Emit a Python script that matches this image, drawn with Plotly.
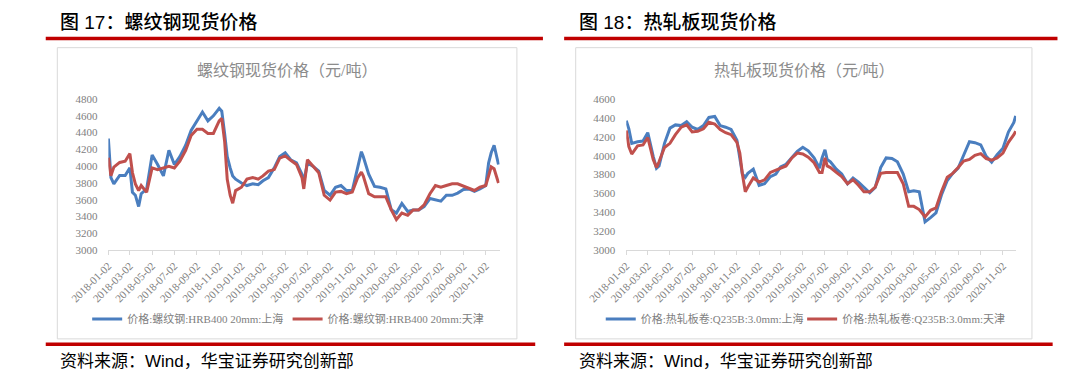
import plotly.graph_objects as go

W, H = 1070, 388

# ---------------- data ----------------
rebar_dates = [
    "2018-01-02", "2018-01-09", "2018-01-17", "2018-02-02", "2018-02-17", "2018-03-02", "2018-03-09",
    "2018-03-17", "2018-03-26", "2018-04-02", "2018-04-17", "2018-05-02", "2018-05-17", "2018-06-02",
    "2018-06-17", "2018-07-02", "2018-07-17", "2018-08-02", "2018-08-17", "2018-09-02", "2018-09-17",
    "2018-10-02", "2018-10-17", "2018-11-02", "2018-11-09", "2018-11-17", "2018-11-24", "2018-12-02",
    "2018-12-09", "2018-12-17", "2019-01-02", "2019-01-17", "2019-02-02", "2019-02-17", "2019-03-02",
    "2019-03-17", "2019-04-02", "2019-04-17", "2019-05-02", "2019-05-17", "2019-06-02", "2019-06-17",
    "2019-06-22", "2019-07-02", "2019-07-17", "2019-08-02", "2019-08-17", "2019-09-02", "2019-09-17",
    "2019-10-02", "2019-10-17", "2019-11-02", "2019-11-17", "2019-11-27", "2019-12-02", "2019-12-17",
    "2020-01-02", "2020-01-17", "2020-02-02", "2020-02-17", "2020-03-02", "2020-03-17", "2020-04-02",
    "2020-04-17", "2020-05-02", "2020-05-17", "2020-06-02", "2020-06-17", "2020-07-02", "2020-07-17",
    "2020-08-02", "2020-08-17", "2020-09-02", "2020-09-17", "2020-10-02", "2020-10-17", "2020-11-02",
    "2020-11-10", "2020-11-17", "2020-11-25", "2020-12-02", "2020-12-07",
]
rebar_shanghai = [
    4330, 3865, 3790, 3890, 3890, 3980, 3690,
    3655, 3520, 3673, 3730, 4135, 4020, 3885,
    4190, 4020, 4115, 4250, 4425, 4540, 4645,
    4540, 4600, 4690, 4655, 4385, 4115, 3980,
    3885, 3846, 3800, 3770, 3790, 3780, 3827,
    3865, 3980, 4115, 4160, 4077, 4040, 3905,
    3810, 4040, 4000, 3942, 3711, 3654, 3750,
    3770, 3711, 3711, 3980, 4173, 4115, 3905,
    3760, 3750, 3730, 3480, 3442, 3557, 3461,
    3480, 3480, 3520, 3615, 3596, 3584, 3654,
    3654, 3680, 3723, 3730, 3700, 3730, 3770,
    4040, 4160, 4250, 4115, 4020,
]
rebar_tianjin = [
    4100, 3885, 3990, 4045, 4060, 4150, 3925,
    3790, 3710, 3770, 3690, 3980, 3960, 3980,
    4000, 3980, 4060, 4190, 4365, 4440, 4440,
    4390, 4390, 4540, 4570, 4290, 3845, 3655,
    3560, 3710, 3750, 3846, 3865, 3846, 3885,
    3942, 3960, 4096, 4123, 4070, 4020, 3865,
    3730, 4077, 4000, 3923, 3654, 3596, 3692,
    3700, 3673, 3692, 3865, 3930, 3885, 3673,
    3635, 3635, 3635, 3480, 3365, 3442, 3415,
    3480, 3480, 3540, 3673, 3770, 3750, 3770,
    3790, 3790, 3761, 3730, 3711, 3750, 3770,
    3885, 3992, 3970, 3885, 3800,
]

hrc_dates = [
    "2018-01-02", "2018-01-09", "2018-01-17", "2018-02-02", "2018-02-17", "2018-03-02", "2018-03-17",
    "2018-03-26", "2018-04-02", "2018-04-17", "2018-05-02", "2018-05-17", "2018-06-02", "2018-06-17",
    "2018-07-02", "2018-07-17", "2018-08-02", "2018-08-17", "2018-09-02", "2018-09-17", "2018-10-02",
    "2018-10-17", "2018-11-02", "2018-11-10", "2018-11-17", "2018-11-25", "2018-12-02", "2018-12-17",
    "2019-01-02", "2019-01-17", "2019-02-02", "2019-02-17", "2019-03-02", "2019-03-17", "2019-04-02",
    "2019-04-17", "2019-05-02", "2019-05-17", "2019-06-02", "2019-06-17", "2019-06-24", "2019-07-02",
    "2019-07-08", "2019-07-17", "2019-08-02", "2019-08-17", "2019-09-02", "2019-09-17", "2019-10-02",
    "2019-10-17", "2019-11-02", "2019-11-17", "2019-12-02", "2019-12-17", "2020-01-02", "2020-01-17",
    "2020-02-02", "2020-02-17", "2020-03-02", "2020-03-17", "2020-04-02", "2020-04-17", "2020-05-02",
    "2020-05-17", "2020-06-02", "2020-06-17", "2020-07-02", "2020-07-17", "2020-08-02", "2020-08-17",
    "2020-09-02", "2020-09-17", "2020-10-02", "2020-10-17", "2020-11-02", "2020-11-17", "2020-12-02",
    "2020-12-07",
]
hrc_shanghai = [
    4370, 4285, 4131, 4148, 4155, 4244, 3994,
    3868, 3892, 4131, 4292, 4326, 4319, 4360,
    4302, 4278, 4319, 4405, 4415, 4319, 4302,
    4278, 4165, 3977, 3806, 3772, 3813, 3858,
    3687, 3704, 3779, 3806, 3881, 3909, 3984,
    4046, 4090, 4052, 3977, 3868, 3977, 4063,
    3960, 3936, 3858, 3806, 3704, 3765, 3721,
    3663, 3608, 3663, 3875, 3977, 3970, 3936,
    3806, 3618, 3628, 3618, 3300, 3345, 3396,
    3584, 3738, 3813, 3868, 4005, 4148, 4138,
    4114, 3994, 3933, 4011, 4080, 4251, 4353,
    4422,
]
hrc_tianjin = [
    4268, 4097, 4018, 4104, 4114, 4193, 3960,
    3875, 3936, 4087, 4131, 4223, 4302, 4326,
    4251, 4258, 4285, 4354, 4336, 4278, 4244,
    4223, 4141, 4028, 3806, 3618, 3669, 3765,
    3721, 3745, 3823, 3847, 3868, 3892, 3977,
    4028, 4018, 3984, 3926, 3823, 3823, 3977,
    3892, 3875, 3823, 3779, 3704, 3745, 3687,
    3618, 3618, 3669, 3813, 3823, 3823, 3823,
    3704, 3464, 3464, 3430, 3352, 3423, 3447,
    3618, 3772, 3813, 3875, 3943, 3960, 4005,
    4022, 3970, 3953, 3977, 4028, 4141, 4223,
    4258,
]

rebar_names = ["价格:螺纹钢:HRB400 20mm:上海", "价格:螺纹钢:HRB400 20mm:天津"]
hrc_names = ["价格:热轧板卷:Q235B:3.0mm:上海", "价格:热轧板卷:Q235B:3.0mm:天津"]
headers = ["图 17：螺纹钢现货价格", "图 18：热轧板现货价格"]
chart_titles = ["螺纹钢现货价格（元/吨）", "热轧板现货价格（元/吨）"]
source_text = "资料来源：Wind，华宝证券研究创新部"

BLUE = "#4A7EBF"
RED = "#C0504D"
DARKRED = "#C00000"
AXIS = "#D9D9D9"
TXT = "#808080"
SERIF = "Liberation Serif, Noto Sans CJK SC, serif"
SANS = "Liberation Sans, Noto Sans CJK SC, sans-serif"


def fx(p):
    return p / W


def fy(p):
    return 1 - p / H


fig = go.Figure()

fig.add_trace(go.Scatter(x=rebar_dates, y=rebar_shanghai, name=rebar_names[0], mode="lines",
                         line=dict(color=BLUE, width=3), xaxis="x", yaxis="y", legend="legend"))
fig.add_trace(go.Scatter(x=rebar_dates, y=rebar_tianjin, name=rebar_names[1], mode="lines",
                         line=dict(color=RED, width=3), xaxis="x", yaxis="y", legend="legend2"))
fig.add_trace(go.Scatter(x=hrc_dates, y=hrc_shanghai, name=hrc_names[0], mode="lines",
                         line=dict(color=BLUE, width=3), xaxis="x2", yaxis="y2", legend="legend3"))
fig.add_trace(go.Scatter(x=hrc_dates, y=hrc_tianjin, name=hrc_names[1], mode="lines",
                         line=dict(color=RED, width=3), xaxis="x2", yaxis="y2", legend="legend4"))

xcommon = dict(type="date", tickmode="linear", tick0="2018-01-02", dtick="M2", tickformat="%Y-%m-%d",
               tickangle=-45, tickfont=dict(family=SERIF, size=11, color=TXT), showgrid=False,
               zeroline=False, showline=True, linecolor=AXIS, linewidth=1, ticks="outside",
               ticklen=4, tickcolor=AXIS, fixedrange=True)
ycommon = dict(dtick=200, tickfont=dict(family=SERIF, size=11, color=TXT), showgrid=False,
               zeroline=False, showline=False, ticks="", ticklabelstandoff=10, fixedrange=True)

yd = [fy(252), fy(96)]
fig.update_layout(
    xaxis=dict(domain=[fx(72), fx(478)], range=["2018-01-02", "2020-12-10"], anchor="y", **xcommon),
    yaxis=dict(domain=yd, range=[3000, 4800], anchor="x", **ycommon),
    xaxis2=dict(domain=[fx(609.5), fx(1014)], range=["2018-01-02", "2020-12-08"], anchor="y2", **xcommon),
    yaxis2=dict(domain=yd, range=[3000, 4600], anchor="x2", **ycommon),
)

leg_common = dict(orientation="h", xanchor="left", yanchor="middle", bgcolor="rgba(0,0,0,0)",
                  borderwidth=0, font=dict(family=SERIF, size=11, color=TXT), visible=True)
fig.update_layout(
    showlegend=True,
    legend=dict(x=fx(50), y=fy(323), **leg_common),
    legend2=dict(x=fx(258), y=fy(323), **leg_common),
    legend3=dict(x=fx(583), y=fy(323), **leg_common),
    legend4=dict(x=fx(792), y=fy(323), **leg_common),
)

shapes = []
annotations = []
for i, (bx0, bx1, lx0, lx1, blx1, cx) in enumerate([
        (19, 496, 7, 523, 515, 257.5),
        (557, 1030.5, 545, 1057, 1052, 793.5)]):
    # chart border
    shapes.append(dict(type="rect", xref="paper", yref="paper", x0=fx(bx0), x1=fx(bx1), y0=fy(343.5),
                       y1=fy(43), line=dict(color=AXIS, width=1), fillcolor="rgba(0,0,0,0)", layer="below"))
    # red rules
    shapes.append(dict(type="line", xref="paper", yref="paper", x0=fx(lx0), x1=fx(lx1), y0=fy(33.5),
                       y1=fy(33.5), line=dict(color=DARKRED, width=3.5)))
    shapes.append(dict(type="line", xref="paper", yref="paper", x0=fx(lx0), x1=fx(blx1), y0=fy(349),
                       y1=fy(349), line=dict(color=DARKRED, width=3.5)))
    annotations.append(dict(text=headers[i], xref="paper", yref="paper", x=fx(bx0 + 1), y=fy(17),
                            xanchor="left", yanchor="middle", showarrow=False,
                            font=dict(family=SANS, size=19, color="#000000", weight=500)))
    annotations.append(dict(text=source_text, xref="paper", yref="paper", x=fx(bx0 + 1), y=fy(367),
                            xanchor="left", yanchor="middle", showarrow=False,
                            font=dict(family=SANS, size=17, color="#000000")))
    annotations.append(dict(text=chart_titles[i], xref="paper", yref="paper", x=fx(cx), y=fy(67),
                            xanchor="center", yanchor="middle", showarrow=False,
                            font=dict(family=SERIF, size=16, color="#8C8C8C")))

fig.update_layout(
    width=W, height=H, margin=dict(l=0, r=0, t=0, b=0),
    paper_bgcolor="white", plot_bgcolor="white",
    shapes=shapes, annotations=annotations,
)

fig.write_html("out.html", config={"displayModeBar": False},
               post_script="document.body.style.margin='0';")
